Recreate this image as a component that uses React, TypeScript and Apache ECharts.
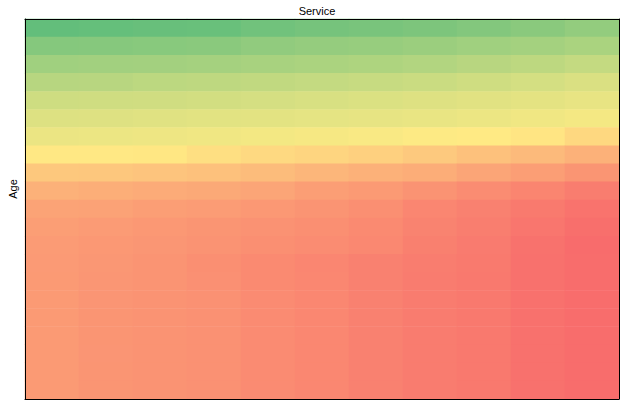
import React, { useEffect, useRef } from "react";
import * as echarts from "echarts";

const serviceCats = ["0", "1", "2", "3", "4", "5", "6", "7", "8", "9", "10"];
const ageCats = [
  "a0", "a1", "a2", "a3", "a4", "a5", "a6", "a7", "a8", "a9", "a10",
  "a11", "a12", "a13", "a14", "a15", "a16", "a17", "a18", "a19", "a20",
];

const row0 = [0, 0.6, 1.6, 1.9, 4.5, 6.1, 7.1, 8.3, 10.3, 12.5, 15.4];
const row1 = [10.9, 11.2, 11.9, 12.5, 14.7, 16, 16.7, 17.9, 19.5, 20.8, 22.8];
const row2 = [19.5, 20.2, 20.5, 21.2, 22.1, 23.1, 24, 25.3, 27.2, 28.8, 31.1];
const row3 = [27, 27.2, 28.5, 29.2, 30.1, 31.1, 32, 33, 34.6, 36.2, 38.1];
const row4 = [34.3, 34.6, 34.9, 35.6, 36.5, 37.5, 38.5, 39.4, 40.4, 41.3, 42.6];
const row5 = [39.1, 39.4, 40.1, 40.7, 41, 41.7, 42.3, 42.9, 43.9, 45.2, 46.5];
const row6 = [43.6, 43.9, 44.6, 45.2, 46.2, 47.1, 48.1, 49.4, 50.5, 52.5, 57.5];
const row7 = [51, 51, 51.5, 54.5, 57, 58.5, 60.5, 63, 66, 69, 72.5];
const row8 = [63.5, 63.8, 65, 66.2, 68.1, 70.4, 72.3, 73.8, 76.9, 79.6, 83.1];
const row9 = [72.3, 73.5, 74.6, 75.4, 76.9, 79.6, 81.2, 83.8, 86.5, 89.2, 92.3];
const row10 = [77.7, 78, 79.6, 80.4, 81.9, 83.5, 85.4, 88.8, 90.8, 93.5, 96.2];
const row11 = [79.6, 80.8, 81.9, 83.1, 84.2, 85.4, 87.3, 90, 91.9, 95, 97.7];
const row12 = [80.8, 81.9, 82.7, 83.8, 85.4, 86.5, 88, 91.2, 93, 96.5, 98.8];
const row13 = [81, 82.5, 83.5, 85.2, 87.5, 88.8, 90.6, 92.4, 93.6, 96.8, 98.6];
const row14 = [81.2, 82.8, 83.6, 85, 87.3, 88.6, 90.8, 92.6, 93.8, 96.9, 98.5];
const row15 = [81.2, 83, 83.8, 84.6, 86.9, 88.5, 90.8, 92.7, 93.8, 96.9, 98.5];
const row16 = [81.3, 83.1, 83.8, 84.7, 86.8, 88.4, 90.7, 92.6, 93.9, 96.8, 98.4];
const row17 = [81.2, 83.1, 83.9, 84.6, 86.9, 88.5, 90.8, 92.7, 93.8, 96.9, 98.5];
const row18 = [81.1, 83, 83.8, 84.5, 86.9, 88.6, 90.9, 92.7, 93.7, 96.9, 98.6];
const row19 = [81.2, 83.1, 83.8, 84.6, 86.8, 88.5, 90.8, 92.8, 93.8, 97, 98.5];
const row20 = [81.3, 83.1, 83.9, 84.6, 86.9, 88.5, 90.9, 92.7, 93.9, 96.9, 98.6];

const rows = [
  row0, row1, row2, row3, row4, row5, row6, row7, row8, row9, row10,
  row11, row12, row13, row14, row15, row16, row17, row18, row19, row20,
];

const FONT = "'Liberation Sans', Arial, sans-serif";

export default function App() {
  const ref = useRef<HTMLDivElement>(null);
  useEffect(() => {
    if (!ref.current) return;
    const chart = echarts.init(ref.current, undefined, { renderer: "svg" });
    const data: number[][] = [];
    rows.forEach((r, i) => r.forEach((v, j) => data.push([j, i, v])));
    const lineStyle = { color: "#000", width: 1 };
    chart.setOption({
      animation: false,
      backgroundColor: "#fff",
      grid: { left: 25, right: 1, top: 19, bottom: 1 },
      xAxis: [
        {
          type: "category", data: serviceCats, position: "bottom", z: 10,
          axisLine: { show: true, lineStyle }, axisTick: { show: false },
          axisLabel: { show: false }, splitLine: { show: false }, splitArea: { show: false },
        },
        {
          type: "category", data: serviceCats, position: "top", z: 10,
          axisLine: { show: true, lineStyle }, axisTick: { show: false },
          axisLabel: { show: false }, splitLine: { show: false },
        },
      ],
      yAxis: [
        {
          type: "category", data: ageCats, inverse: true, position: "left", z: 10,
          axisLine: { show: true, lineStyle }, axisTick: { show: false },
          axisLabel: { show: false }, splitLine: { show: false },
        },
        {
          type: "category", data: ageCats, inverse: true, position: "right", z: 10,
          axisLine: { show: true, lineStyle }, axisTick: { show: false },
          axisLabel: { show: false }, splitLine: { show: false },
        },
      ],
      visualMap: {
        show: false,
        min: 0,
        max: 100,
        dimension: 2,
        inRange: { color: ["#63BE7B", "#FFEB84", "#F8696B"] },
      },
      graphic: [
        {
          type: "text", x: 317, y: 11,
          style: { text: "Service", font: `11px ${FONT}`, fill: "#000", align: "center", verticalAlign: "middle" },
        },
        {
          type: "text", x: 12.5, y: 189, rotation: Math.PI / 2,
          style: { text: "Age", font: `11px ${FONT}`, fill: "#000", align: "center", verticalAlign: "middle" },
        },
      ],
      series: [
        {
          type: "heatmap",
          xAxisIndex: 0,
          yAxisIndex: 0,
          data,
          itemStyle: { borderWidth: 0 },
          emphasis: { disabled: true },
        },
      ],
    });
    return () => chart.dispose();
  }, []);
  return (
    <div
      ref={ref}
      style={{ position: "fixed", left: 0, top: 0, width: 620, height: 400 }}
    />
  );
}
